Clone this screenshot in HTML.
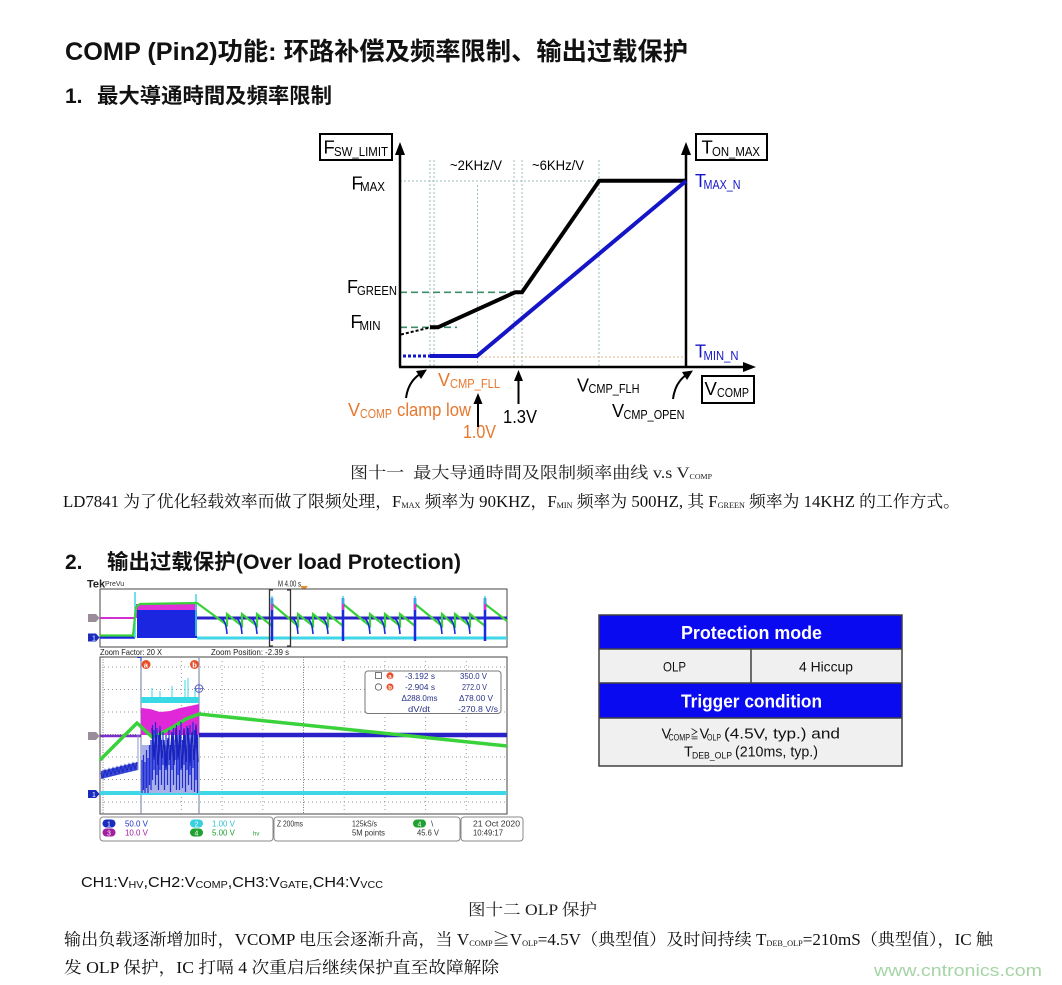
<!DOCTYPE html>
<html><head><meta charset="utf-8"><style>
html,body{margin:0;padding:0;background:#fff;}
svg{display:block;}
.s{font-family:"Liberation Sans","Noto Sans CJK SC",sans-serif;}
.sb{font-family:"Liberation Sans","Noto Sans CJK SC",sans-serif;font-weight:bold;}
.r{font-family:"Liberation Serif","Noto Serif CJK SC",serif;}
</style></head><body>
<svg width="1062" height="985" viewBox="0 0 1062 985" xmlns="http://www.w3.org/2000/svg">
<rect width="1062" height="985" fill="#fff"/>

<!-- Headings -->
<text class="sb" x="65" y="60" font-size="25" fill="#111" textLength="623" lengthAdjust="spacingAndGlyphs">COMP (Pin2)功能: 环路补偿及频率限制、输出过载保护</text>
<text class="sb" x="65" y="103" font-size="21" fill="#111">1.</text>
<text class="sb" x="97" y="103" font-size="21" fill="#111" textLength="235" lengthAdjust="spacingAndGlyphs">最大導通時間及頻率限制</text>

<!-- ============ Chart 1 ============ -->
<g class="s">
<g stroke="#9cbcbc" stroke-width="1" stroke-dasharray="2 2" fill="none">
<line x1="430" y1="160" x2="430" y2="367"/>
<line x1="434" y1="160" x2="434" y2="367"/>
<line x1="477.5" y1="185" x2="477.5" y2="367"/>
<line x1="514" y1="160" x2="514" y2="367"/>
<line x1="522" y1="160" x2="522" y2="367"/>
<line x1="599" y1="160" x2="599" y2="367"/>
<line x1="400" y1="181" x2="686" y2="181"/>
</g>
<line x1="477" y1="357" x2="686" y2="357" stroke="#e0b890" stroke-width="1" stroke-dasharray="2 2"/>
<line x1="400" y1="292.3" x2="522" y2="292.3" stroke="#3d8c6a" stroke-width="1.6" stroke-dasharray="7 4"/>
<line x1="400" y1="327.3" x2="457" y2="327.3" stroke="#3d8c6a" stroke-width="1.6" stroke-dasharray="7 4"/>
<g stroke="#000" stroke-width="2.5">
<line x1="400" y1="367" x2="400" y2="152"/>
<line x1="686" y1="367" x2="686" y2="152"/>
<line x1="399" y1="367" x2="746" y2="367"/>
</g>
<polygon points="400,142 395,155 405,155" fill="#000"/>
<polygon points="686,142 681,155 691,155" fill="#000"/>
<polygon points="756,367 743,362 743,372" fill="#000"/>
<line x1="401" y1="334.5" x2="430" y2="327.5" stroke="#000" stroke-width="2" stroke-dasharray="3 2"/>
<polyline points="430,327.3 438,327.3 515,292.3 522,292.3 599.3,180.7 686,180.7" fill="none" stroke="#000" stroke-width="4"/>
<line x1="403" y1="356" x2="430" y2="356" stroke="#1515c8" stroke-width="3" stroke-dasharray="3 2"/>
<polyline points="430,356 477,356 686,181" fill="none" stroke="#1515c8" stroke-width="4"/>
<g fill="none" stroke="#000" stroke-width="2">
<rect x="320" y="134" width="72" height="26"/>
<rect x="696" y="134" width="71" height="26"/>
<rect x="702" y="376" width="52" height="27"/>
</g>
<text x="323.5" y="153.5" font-size="18.5">F</text>
<text x="334" y="156" font-size="13" textLength="54" lengthAdjust="spacingAndGlyphs">SW_LIMIT</text>
<text x="701.5" y="153.5" font-size="18.5">T</text>
<text x="712" y="156" font-size="13" textLength="48" lengthAdjust="spacingAndGlyphs">ON_MAX</text>
<text x="704.5" y="395" font-size="18.5">V</text>
<text x="717" y="397" font-size="13" textLength="32" lengthAdjust="spacingAndGlyphs">COMP</text>
<text x="351.5" y="189.5" font-size="18">F</text>
<text x="360" y="191" font-size="13" textLength="25" lengthAdjust="spacingAndGlyphs">MAX</text>
<text x="347" y="293" font-size="18">F</text>
<text x="357" y="295" font-size="13" textLength="40" lengthAdjust="spacingAndGlyphs">GREEN</text>
<text x="350.5" y="328" font-size="18">F</text>
<text x="359.5" y="330" font-size="13" textLength="21" lengthAdjust="spacingAndGlyphs">MIN</text>
<text x="450" y="170" font-size="14" textLength="52" lengthAdjust="spacingAndGlyphs">~2KHz/V</text>
<text x="532" y="170" font-size="14" textLength="52" lengthAdjust="spacingAndGlyphs">~6KHz/V</text>
<text x="695" y="187" font-size="18" fill="#1515c8">T</text>
<text x="703.5" y="189" font-size="13" fill="#1515c8" textLength="37" lengthAdjust="spacingAndGlyphs">MAX_N</text>
<text x="695" y="357.5" font-size="18" fill="#1515c8">T</text>
<text x="703.5" y="360" font-size="13" fill="#1515c8" textLength="35" lengthAdjust="spacingAndGlyphs">MIN_N</text>
<text x="438" y="386" font-size="18" fill="#e8772e">V</text>
<text x="450" y="388" font-size="13" fill="#e8772e" textLength="50" lengthAdjust="spacingAndGlyphs">CMP_FLL</text>
<text x="348" y="416" font-size="18" fill="#e8772e">V</text>
<text x="360" y="418" font-size="13" fill="#e8772e" textLength="32" lengthAdjust="spacingAndGlyphs">COMP</text>
<text x="397" y="416" font-size="18" fill="#e8772e" textLength="74" lengthAdjust="spacingAndGlyphs">clamp low</text>
<text x="463" y="438" font-size="18" fill="#e8772e" textLength="33" lengthAdjust="spacingAndGlyphs">1.0V</text>
<text x="503" y="423" font-size="18" textLength="34" lengthAdjust="spacingAndGlyphs">1.3V</text>
<text x="577" y="391.5" font-size="18">V</text>
<text x="588.5" y="393" font-size="13" textLength="51" lengthAdjust="spacingAndGlyphs">CMP_FLH</text>
<text x="612" y="417" font-size="18">V</text>
<text x="623.5" y="419" font-size="13" textLength="61" lengthAdjust="spacingAndGlyphs">CMP_OPEN</text>
<g stroke="#000" stroke-width="2" fill="none">
<path d="M406,398 Q408,382 420,374"/>
<path d="M673,399 Q675,383 686,375"/>
<line x1="478" y1="427" x2="478" y2="402"/>
<line x1="518.5" y1="404" x2="518.5" y2="379"/>
</g>
<polygon points="427,369.5 416,371 421,379" fill="#000"/>
<polygon points="693,370.5 682,372 687,380" fill="#000"/>
<polygon points="478,393 473.5,404 482.5,404" fill="#000"/>
<polygon points="518.5,370 514,381 523,381" fill="#000"/>
</g>

<!-- Caption 1 and paragraph -->
<text class="r" x="350" y="478" font-size="16" fill="#222" textLength="362" lengthAdjust="spacingAndGlyphs">图十一&#160; 最大导通時間及限制频率曲线 v.s V<tspan font-size="7" dy="1">COMP</tspan></text>
<text class="r" x="63" y="507" font-size="16.5" fill="#111" textLength="897" lengthAdjust="spacingAndGlyphs">LD7841 为了优化轻载效率而做了限频处理，F<tspan font-size="8" dy="1">MAX</tspan><tspan dy="-1"> 频率为 90KHZ，F</tspan><tspan font-size="8" dy="1">MIN</tspan><tspan dy="-1"> 频率为 500HZ, 其 F</tspan><tspan font-size="8" dy="1">GREEN</tspan><tspan dy="-1"> 频率为 14KHZ 的工作方式。</tspan></text>

<text class="sb" x="65" y="569" font-size="21" fill="#111">2.</text>
<text class="sb" x="107" y="569" font-size="21" fill="#111" textLength="354" lengthAdjust="spacingAndGlyphs">输出过载保护(Over load Protection)</text>

<!-- ============ Scope ============ -->
<g class="s">
<text x="87" y="587.5" font-size="11" font-weight="bold" fill="#222">Tek</text>
<text x="105" y="586" font-size="7" fill="#333">PreVu</text>
<text x="278" y="586.5" font-size="8.5" fill="#222" textLength="23" lengthAdjust="spacingAndGlyphs">M 4.00 s</text>
<polygon points="300,586 308,586 304,591" fill="#e89030"/>

<rect x="100" y="589" width="407" height="58" fill="#fff" stroke="#444" stroke-width="1"/>
<line x1="100" y1="618" x2="136" y2="618" stroke="#d030d0" stroke-width="2"/>
<line x1="100" y1="637.5" x2="135" y2="637.5" stroke="#1a28e0" stroke-width="2.5"/>
<rect x="136" y="604" width="61" height="14" fill="#e030d8"/>
<rect x="137" y="610" width="60" height="28" fill="#1a26e0"/>
<line x1="197" y1="618" x2="507" y2="618" stroke="#2a22c8" stroke-width="3"/>
<line x1="197" y1="638" x2="507" y2="638" stroke="#3fd6e6" stroke-width="3"/>
<line x1="135" y1="638" x2="135" y2="592" stroke="#3fd6e6" stroke-width="1.5"/>
<line x1="196" y1="636" x2="196" y2="594" stroke="#3fd6e6" stroke-width="1.5"/>
<path d="M100,635.5 H133 L136,607 L140,604 L197,603 L227,625 L227,614 L242,626 L242,614 L257,626 L257,614 L272,626 L272,604 L298,626 L298,614 L313,626 L313,614 L328,626 L328,614 L343,626 L343,604 L370,626 L370,614 L385,626 L385,614 L400,626 L400,614 L415,626 L415,604 L442,626 L442,614 L455,626 L455,614 L470,626 L470,614 L485,626 L485,604 L507,621" fill="none" stroke="#3ad23a" stroke-width="2.2"/>
<g stroke="#1a28e0" stroke-width="1.6" fill="none">
<path d="M222,619 Q226,621 227,634"/><path d="M237,619 Q241,621 242,634"/><path d="M252,619 Q256,621 257,634"/>
<path d="M293,619 Q297,621 298,634"/><path d="M308,619 Q312,621 313,634"/><path d="M323,619 Q327,621 328,634"/>
<path d="M365,619 Q369,621 370,634"/><path d="M380,619 Q384,621 385,634"/><path d="M395,619 Q399,621 400,634"/>
<path d="M437,619 Q441,621 442,634"/><path d="M450,619 Q454,621 455,634"/><path d="M465,619 Q469,621 470,634"/>
</g>
<g stroke-width="2.5">
<line x1="272" y1="598" x2="272" y2="641" stroke="#1a28e0"/>
<line x1="343" y1="598" x2="343" y2="641" stroke="#1a28e0"/>
<line x1="415" y1="598" x2="415" y2="641" stroke="#1a28e0"/>
<line x1="485" y1="598" x2="485" y2="641" stroke="#1a28e0"/>
</g>
<g stroke="#3fd6e6" stroke-width="1.5">
<line x1="272" y1="596" x2="272" y2="604"/><line x1="343" y1="596" x2="343" y2="604"/>
<line x1="415" y1="596" x2="415" y2="604"/><line x1="485" y1="596" x2="485" y2="604"/>
</g>
<g stroke="#e030d8" stroke-width="2">
<line x1="272" y1="604" x2="272" y2="610"/><line x1="343" y1="604" x2="343" y2="610"/>
<line x1="415" y1="604" x2="415" y2="610"/><line x1="485" y1="604" x2="485" y2="610"/>
</g>
<path d="M273,590 H269.5 V646 H273 M287,590 H290.5 V646 H287" fill="none" stroke="#333" stroke-width="1.3"/>
<path d="M88,614 H96 L99.5,618 L96,622 H88 Z" fill="#9a8c98"/>
<path d="M88,633.5 H96 L99.5,637.5 L96,641.5 H88 Z" fill="#1a2cc0"/>
<text x="92" y="640.5" font-size="7" fill="#fff">1</text>

<text x="100" y="655" font-size="8.5" fill="#222" textLength="62" lengthAdjust="spacingAndGlyphs">Zoom Factor: 20 X</text>
<text x="211" y="655" font-size="8.5" fill="#222" textLength="78" lengthAdjust="spacingAndGlyphs">Zoom Position: -2.39 s</text>

<rect x="100" y="657" width="407" height="157" fill="#fff" stroke="#444" stroke-width="1"/>
<g stroke="#999" stroke-width="1" stroke-dasharray="1 3">
<line x1="181.4" y1="657" x2="181.4" y2="814"/><line x1="222.1" y1="657" x2="222.1" y2="814"/>
<line x1="262.8" y1="657" x2="262.8" y2="814"/>
<line x1="344.2" y1="657" x2="344.2" y2="814"/><line x1="384.9" y1="657" x2="384.9" y2="814"/>
<line x1="425.6" y1="657" x2="425.6" y2="814"/><line x1="466.3" y1="657" x2="466.3" y2="814"/>
<line x1="100" y1="667" x2="507" y2="667"/><line x1="100" y1="689.5" x2="507" y2="689.5"/>
<line x1="100" y1="712" x2="507" y2="712"/>
<line x1="100" y1="757" x2="507" y2="757"/><line x1="100" y1="779.5" x2="507" y2="779.5"/>
<line x1="100" y1="802" x2="507" y2="802"/>
</g>
<g stroke="#777" stroke-width="1" stroke-dasharray="1 1.5">
<line x1="303.5" y1="657" x2="303.5" y2="814"/>
<line x1="100" y1="734.5" x2="507" y2="734.5"/>
<line x1="103" y1="657" x2="103" y2="814"/>
</g>
<line x1="141" y1="657" x2="141" y2="814" stroke="#8890b0" stroke-width="1.2"/>
<line x1="199" y1="657" x2="199" y2="814" stroke="#8890b0" stroke-width="1.2"/>
<path d="M137,657.5 H141 V661" stroke="#2040d0" stroke-width="1" fill="none"/>

<line x1="100" y1="736" x2="141" y2="736" stroke="#7a30c8" stroke-width="2.5"/>
<line x1="199" y1="735" x2="507" y2="735" stroke="#2a22c8" stroke-width="4.5"/>
<line x1="100" y1="793" x2="507" y2="793" stroke="#3fd6e6" stroke-width="4"/>
<polygon points="141,708 150,709 160,712 170,711 180,708 190,706 199,704 199,735 141,735" fill="#e028d8"/>
<rect x="141" y="697" width="58" height="6" fill="#38d8e4"/>
<g stroke="#38d8e4" stroke-width="1">
<line x1="152" y1="697" x2="152" y2="688"/><line x1="160" y1="697" x2="160" y2="691"/>
<line x1="172" y1="697" x2="172" y2="686"/><line x1="185" y1="697" x2="185" y2="680"/>
<line x1="188" y1="697" x2="188" y2="678"/><line x1="195" y1="697" x2="195" y2="690"/>
</g>
<polyline points="100,760 137,723 152,737 160,734 173,727 186,719 199,714 507,746" fill="none" stroke="#3ad23a" stroke-width="3.5"/>
<rect x="141" y="745" width="58" height="48" fill="#aab0e8"/>
<path d="M142,760V793 M143.5,755V790 M145,762V793 M146.5,750V788 M148,758V793 M149.5,745V785 M151,740V790 M152.5,725V780 M154,730V770 M155.5,722V785 M157,728V775 M158.5,735V790 M160,726V770 M161.5,740V785 M163,732V765 M164.5,745V790 M166,735V760 M167.5,740V785 M169,730V765 M170.5,745V792 M172,735V770 M173.5,728V785 M175,740V760 M176.5,725V790 M178,735V775 M179.5,730V790 M181,722V770 M182.5,740V788 M184,728V765 M185.5,735V792 M187,726V770 M188.5,740V785 M190,725V775 M191.5,738V790 M193,722V768 M194.5,730V792 M196,724V780 M197.5,735V793" stroke="#1f2ed4" stroke-width="1.2" fill="none"/>
<polyline points="152,728 154,760 156,735 158,765 160,730 162,758 164,740 166,770 168,738 170,760 172,732 174,765 176,728 178,760 180,735 182,768 184,730 186,762 188,728 190,766 192,732 194,760 196,726 198,762" fill="none" stroke="#1a22b8" stroke-width="1.3"/>
<polygon points="101,771 138,762 138,770 101,779" fill="#3a4ad8"/>
<polyline points="101,773 103,778 105,770 107,776 109,769 111,775 113,768 115,774 117,767 119,773 121,766 123,772 125,765 127,771 129,764 131,770 133,763 135,769 137,762" fill="none" stroke="#1c28c0" stroke-width="1"/>
<line x1="138" y1="734" x2="138" y2="770" stroke="#8898d8" stroke-width="1"/>

<circle cx="146" cy="664.5" r="4.5" fill="#e8502a"/>
<text x="143.7" y="667.3" font-size="7.5" font-weight="bold" fill="#fff">a</text>
<circle cx="194.5" cy="664.5" r="4.5" fill="#e8502a"/>
<text x="192.2" y="667.3" font-size="7.5" font-weight="bold" fill="#fff">b</text>
<circle cx="199" cy="688.5" r="3.8" fill="none" stroke="#5060c0" stroke-width="1"/>
<path d="M194,688.5 H204 M199,683.5 V693.5" stroke="#5060c0" stroke-width="0.8"/>

<path d="M88,732 H96 L99.5,736 L96,740 H88 Z" fill="#9a8c98"/>
<path d="M88,790 H96 L99.5,794 L96,798 H88 Z" fill="#1a2cc0"/>
<text x="92" y="797" font-size="7" fill="#fff">1</text>

<rect x="365" y="671" width="136" height="42.5" rx="3" fill="#fff" stroke="#777" stroke-width="1"/>
<g font-size="8.3" fill="#2a3488">
<rect x="375.5" y="672.5" width="6" height="6" fill="none" stroke="#555" stroke-width="0.8"/>
<circle cx="390" cy="675.8" r="3.5" fill="#e8502a"/>
<text x="388.2" y="678.3" font-size="6" fill="#fff" font-weight="bold">a</text>
<text x="405" y="679" textLength="30" lengthAdjust="spacingAndGlyphs">-3.192 s</text>
<text x="460" y="679" textLength="27" lengthAdjust="spacingAndGlyphs">350.0 V</text>
<circle cx="378.5" cy="687" r="3.2" fill="none" stroke="#555" stroke-width="0.8"/>
<circle cx="390" cy="687" r="3.5" fill="#e8502a"/>
<text x="388.2" y="689.5" font-size="6" fill="#fff" font-weight="bold">b</text>
<text x="405" y="690" textLength="30" lengthAdjust="spacingAndGlyphs">-2.904 s</text>
<text x="462" y="690" textLength="25" lengthAdjust="spacingAndGlyphs">272.0 V</text>
<text x="401.5" y="701" textLength="36" lengthAdjust="spacingAndGlyphs">Δ288.0ms</text>
<text x="459" y="701" textLength="34" lengthAdjust="spacingAndGlyphs">Δ78.00 V</text>
<text x="408" y="712" textLength="22" lengthAdjust="spacingAndGlyphs">dV/dt</text>
<text x="458" y="712" textLength="40" lengthAdjust="spacingAndGlyphs">-270.8 V/s</text>
</g>

<g fill="#fff" stroke="#888" stroke-width="1">
<rect x="100" y="817" width="173" height="24" rx="3"/>
<rect x="274" y="817" width="186" height="24" rx="3"/>
<rect x="461" y="817" width="62" height="24" rx="3"/>
</g>
<g font-size="8.3">
<rect x="102.5" y="819.5" width="13" height="8" rx="4" fill="#1a2cc0"/>
<text x="107" y="826.3" font-size="7" fill="#fff">1</text>
<text x="125" y="826.5" fill="#2030c0" textLength="23" lengthAdjust="spacingAndGlyphs">50.0 V</text>
<rect x="102.5" y="828.5" width="13" height="8" rx="4" fill="#a020a0"/>
<text x="107" y="835.3" font-size="7" fill="#fff">3</text>
<text x="125" y="835.5" fill="#a020a0" textLength="23" lengthAdjust="spacingAndGlyphs">10.0 V</text>
<rect x="190" y="819.5" width="13" height="8" rx="4" fill="#38d0e0"/>
<text x="194.5" y="826.3" font-size="7" fill="#fff">2</text>
<text x="212" y="826.5" fill="#30c0d8" textLength="23" lengthAdjust="spacingAndGlyphs">1.00 V</text>
<rect x="190" y="828.5" width="13" height="8" rx="4" fill="#20a030"/>
<text x="194.5" y="835.3" font-size="7" fill="#fff">4</text>
<text x="212" y="835.5" fill="#20a030" textLength="23" lengthAdjust="spacingAndGlyphs">5.00 V</text>
<text x="253" y="835.5" font-size="6" fill="#20a030">hv</text>
<text x="277" y="826.5" fill="#333" textLength="26" lengthAdjust="spacingAndGlyphs">Z 200ms</text>
<text x="352" y="826.5" fill="#333" textLength="25" lengthAdjust="spacingAndGlyphs">125kS/s</text>
<text x="352" y="835.5" fill="#333" textLength="33" lengthAdjust="spacingAndGlyphs">5M points</text>
<rect x="413" y="819.5" width="13" height="8" rx="4" fill="#20a030"/>
<text x="417.5" y="826.3" font-size="7" fill="#fff">4</text>
<text x="431" y="826.5" fill="#333">\</text>
<text x="417" y="835.5" fill="#333" textLength="22" lengthAdjust="spacingAndGlyphs">45.6 V</text>
<text x="473" y="826.5" fill="#333" textLength="47" lengthAdjust="spacingAndGlyphs">21 Oct 2020</text>
<text x="473" y="835.5" fill="#333" textLength="30" lengthAdjust="spacingAndGlyphs">10:49:17</text>
</g>
</g>

<!-- ============ Table ============ -->
<g class="s">
<rect x="599" y="615" width="303" height="34" fill="#0a0af0"/>
<rect x="599" y="649" width="303" height="34" fill="#f0f0f0"/>
<rect x="599" y="683" width="303" height="35" fill="#0a0af0"/>
<rect x="599" y="718" width="303" height="48" fill="#f0f0f0"/>
<g stroke="#404040" stroke-width="1.5" fill="none">
<rect x="599" y="615" width="303" height="151"/>
<line x1="599" y1="649" x2="902" y2="649"/>
<line x1="599" y1="683" x2="902" y2="683"/>
<line x1="599" y1="718" x2="902" y2="718"/>
<line x1="751" y1="649" x2="751" y2="683"/>
</g>
<text x="681" y="639" font-size="18" font-weight="bold" fill="#fff" textLength="141" lengthAdjust="spacingAndGlyphs">Protection mode</text>
<text x="681" y="707.5" font-size="18" font-weight="bold" fill="#fff" textLength="141" lengthAdjust="spacingAndGlyphs">Trigger condition</text>
<text x="663" y="671.5" font-size="14" fill="#111" textLength="23" lengthAdjust="spacingAndGlyphs">OLP</text>
<text x="799" y="671.5" font-size="14" fill="#111" textLength="54" lengthAdjust="spacingAndGlyphs">4 Hiccup</text>
<text x="661.5" y="738.5" font-size="14.5" fill="#111">V</text>
<text x="668.5" y="740.5" font-size="9.5" fill="#111" textLength="21.5" lengthAdjust="spacingAndGlyphs">COMP</text>
<text x="690.5" y="738.5" font-size="12" fill="#111" textLength="8" lengthAdjust="spacingAndGlyphs">≧</text>
<text x="699.5" y="738.5" font-size="14.5" fill="#111">V</text>
<text x="707" y="740.5" font-size="9.5" fill="#111" textLength="14" lengthAdjust="spacingAndGlyphs">OLP</text>
<text x="724" y="738.5" font-size="14.5" fill="#111" textLength="116" lengthAdjust="spacingAndGlyphs">(4.5V, typ.) and</text>
<text x="684" y="756.5" font-size="14.5" fill="#111">T</text>
<text x="692" y="758.5" font-size="9.5" fill="#111" textLength="40" lengthAdjust="spacingAndGlyphs">DEB_OLP</text>
<text x="735" y="756.5" font-size="14.5" fill="#111" textLength="83" lengthAdjust="spacingAndGlyphs">(210ms, typ.)</text>
</g>

<!-- ============ Bottom text ============ -->
<text class="s" x="81" y="887" font-size="15" fill="#111" textLength="302" lengthAdjust="spacingAndGlyphs">CH1:V<tspan font-size="10" dy="1">HV</tspan><tspan dy="-1">,CH2:V</tspan><tspan font-size="10" dy="1">COMP</tspan><tspan dy="-1">,CH3:V</tspan><tspan font-size="10" dy="1">GATE</tspan><tspan dy="-1">,CH4:V</tspan><tspan font-size="10" dy="1">VCC</tspan></text>
<text class="r" x="468" y="915" font-size="16" fill="#222" textLength="129" lengthAdjust="spacingAndGlyphs">图十二 OLP 保护</text>
<text class="r" x="64" y="945" font-size="16.5" fill="#111" textLength="929" lengthAdjust="spacingAndGlyphs">输出负载逐渐增加时，VCOMP 电压会逐渐升高，当 V<tspan font-size="8" dy="1">COMP</tspan><tspan dy="-1">≧V</tspan><tspan font-size="8" dy="1">OLP</tspan><tspan dy="-1">=4.5V（典型值）及时间持续 T</tspan><tspan font-size="8" dy="1">DEB_OLP</tspan><tspan dy="-1">=210mS（典型值），IC 触</tspan></text>
<text class="r" x="64" y="973" font-size="16.5" fill="#111" textLength="435" lengthAdjust="spacingAndGlyphs">发 OLP 保护，IC 打嗝 4 次重启后继续保护直至故障解除</text>
<text class="s" x="874" y="976" font-size="17" fill="#a6d4a6" textLength="168" lengthAdjust="spacingAndGlyphs">www.cntronics.com</text>
</svg>
</body></html>
